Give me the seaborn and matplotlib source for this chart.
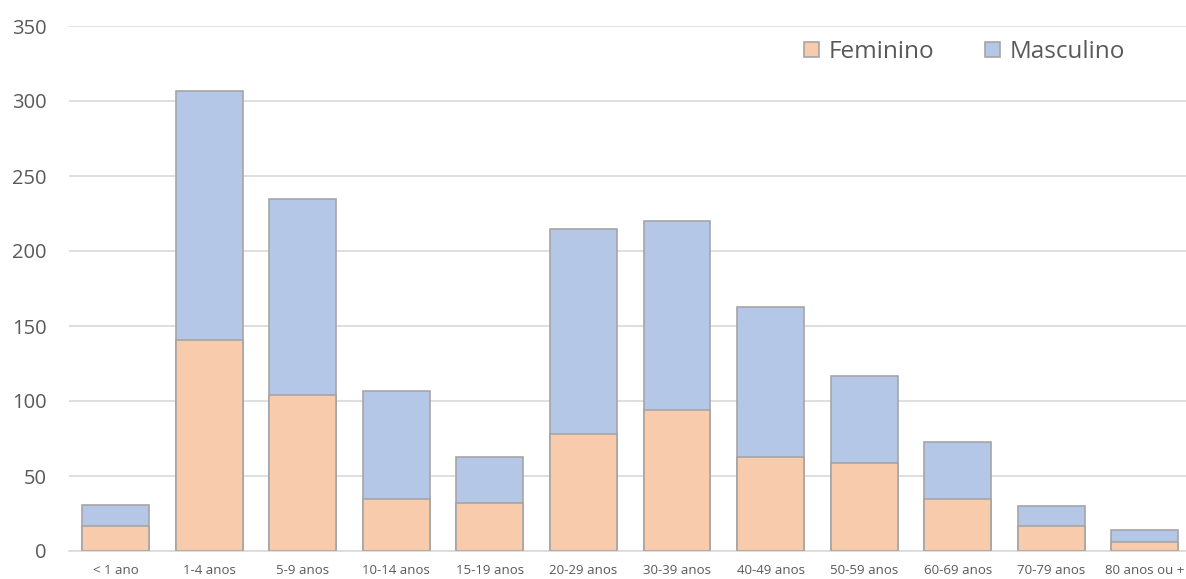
import matplotlib
matplotlib.use("Agg")
import matplotlib.pyplot as plt
import seaborn as sns
import pandas as pd
from matplotlib.patches import Patch

categories = ["< 1 ano", "1-4 anos", "5-9 anos", "10-14 anos", "15-19 anos", "20-29 anos",
              "30-39 anos", "40-49 anos", "50-59 anos", "60-69 anos", "70-79 anos", "80 anos ou +"]
feminino = [17, 141, 104, 35, 32, 78, 94, 63, 59, 35, 17, 6]
masculino = [14, 166, 131, 72, 31, 137, 126, 100, 58, 38, 13, 8]
yticks = [0, 50, 100, 150, 200, 250, 300, 350]

df = pd.DataFrame({"faixa": categories, "Feminino": feminino, "Masculino": masculino})
df["total"] = df["Feminino"] + df["Masculino"]

sns.set_style("white")
plt.rcParams["font.family"] = ["Open Sans", "DejaVu Sans"]

fem_col = "#F8CBAD"
mas_col = "#B4C7E7"
edge_col = "#A5A5A5"
text_col = "#595959"

fig = plt.figure(figsize=(11.86, 5.79), dpi=100)
ax = fig.add_axes([69 / 1186, 28 / 579, (1191.5 - 69) / 1186, 525 / 579])

sns.barplot(data=df, x="faixa", y="total", color=mas_col, width=0.715,
            edgecolor=edge_col, linewidth=1.2, saturation=1, ax=ax, zorder=2)
sns.barplot(data=df, x="faixa", y="Feminino", color=fem_col, width=0.715,
            edgecolor=edge_col, linewidth=1.2, saturation=1, ax=ax, zorder=3)

ax.set_ylim(0, 350)
ax.set_xlim(-0.5, len(categories) - 0.5)
ax.set_yticks(yticks)
ax.set_yticklabels([str(v) for v in yticks], fontsize=14.5, color=text_col)
ax.tick_params(axis="x", labelsize=9.5, labelcolor=text_col, length=0, pad=9)
ax.tick_params(axis="y", length=0, pad=16)
ax.set_xlabel("")
ax.set_ylabel("")
ax.yaxis.grid(True, color="#D9D9D9", linewidth=1.2, zorder=0)
ax.set_axisbelow(True)
for s in ["top", "right", "left"]:
    ax.spines[s].set_visible(False)
ax.spines["bottom"].set_color("#D9D9D9")
ax.spines["bottom"].set_linewidth(1.2)

handles = [Patch(facecolor=fem_col, edgecolor=edge_col, linewidth=1.2, label="Feminino"),
           Patch(facecolor=mas_col, edgecolor=edge_col, linewidth=1.2, label="Masculino")]
leg = fig.legend(handles=handles, loc="center left", bbox_to_anchor=(804 / 1186, 1 - 52 / 579),
                 ncol=2, frameon=False, fontsize=17.5, handlelength=0.6, handleheight=0.6,
                 handletextpad=0.4, columnspacing=2.1, borderaxespad=0, borderpad=0)
for t in leg.get_texts():
    t.set_color(text_col)

fig.savefig("out.png", dpi=100)
